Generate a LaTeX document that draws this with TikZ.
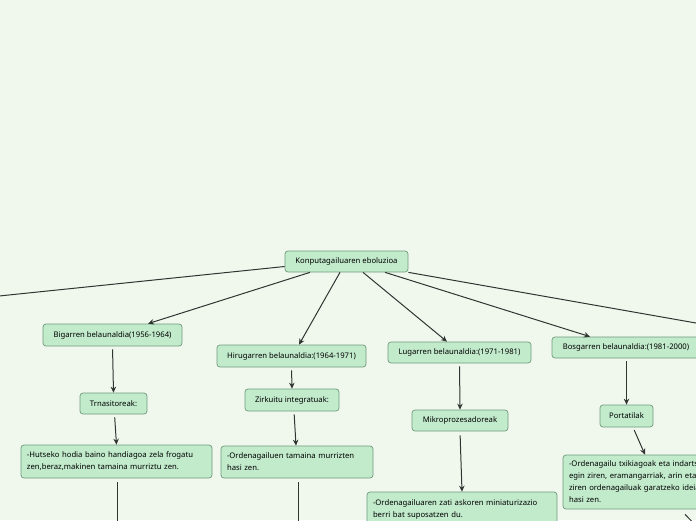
\documentclass[tikz,border=0pt]{standalone}
\usepackage{fontspec}
\setmainfont{Noto Sans}
\usetikzlibrary{arrows.meta}
\definecolor{bgc}{HTML}{F0F8EE}
\definecolor{boxfill}{HTML}{C2EBCC}
\definecolor{bdr}{HTML}{6E9A7A}
\definecolor{lnc}{HTML}{2F3632}
\tikzset{
  box/.style={draw=bdr, fill=boxfill, rounded corners=3pt, line width=0.7pt,
    font=\fontsize{7.7}{12}\selectfont, inner sep=0pt, align=center},
  tbox/.style={box, align=left, inner xsep=6pt},
  arr/.style={draw=lnc, line width=1pt, -{Stealth[length=6pt,width=5.5pt]}},
  ln/.style={draw=lnc, line width=1pt}
}
\begin{document}
\begin{tikzpicture}[x=1pt,y=-1pt]
\fill[bgc] (0,0) rectangle (696,520);
\useasboundingbox (0,0) rectangle (696,520);
\begin{scope}
\clip (0,0) rectangle (696,520);
\node[box, minimum width=123pt, minimum height=21pt] (root) at (346.5,261.5) {Konputagailuaren eboluzioa};
\node[box, minimum width=139pt, minimum height=22pt] (big) at (112.5,335) {Bigarren belaunaldia(1956-1964)};
\node[box, minimum width=67pt, minimum height=21pt] (trn) at (113.5,403.5) {Trnasitoreak:};
\node[tbox, text width=179pt, minimum height=33pt] (hut) at (116.5,461.5) {-Hutseko hodia baino handiagoa zela frogatu\\zen,beraz,makinen tamaina murriztu zen.};
\node[box, minimum width=149pt, minimum height=22pt] (hiru) at (291.5,356) {Hirugarren belaunaldia:(1964-1971)};
\node[box, minimum width=94pt, minimum height=22pt] (zirk) at (292,400) {Zirkuitu integratuak:};
\node[tbox, text width=140pt, minimum height=32pt] (ord1) at (297,462) {-Ordenagailuen tamaina murrizten\\hasi zen.};
\node[box, minimum width=143pt, minimum height=21pt] (lug) at (459.5,352.5) {Lugarren belaunaldia:(1971-1981)};
\node[box, minimum width=96pt, minimum height=21pt] (mik) at (460,420.5) {Mikroprozesadoreak};
\node[tbox, text width=178pt, minimum height=34pt] (ord2) at (462,509) {-Ordenagailuaren zati askoren miniaturizazio\\berri bat suposatzen du.};
\node[box, minimum width=148pt, minimum height=21pt] (bos) at (626,347.5) {Bosgarren belaunaldia:(1981-2000)};
\node[box, minimum width=53pt, minimum height=22pt] (port) at (626.5,416) {Portatilak};
\node[tbox, text width=188pt, minimum height=54pt] (txik) at (663,482) {-Ordenagailu txikiagoak eta indartsuagoak\\egin ziren, eramangarriak, arin eta erosoak\\ziren ordenagailuak garatzeko ideia\\hasi zen.};
\coordinate (lfar) at (-30,299);
\coordinate (rfar) at (730,329);
\coordinate (hutd) at (117,530);
\coordinate (ord1d) at (298,530);
\coordinate (txikd) at (705,535);
% root connectors
\draw[ln] ([yshift=-5pt]root.west) -- (lfar);
\draw[ln] (root.south east) -- (rfar);
\draw[arr] ([xshift=-36.5pt]root.south) -- ([xshift=35.5pt]big.north);
\draw[arr] ([xshift=-6.5pt]root.south) -- ([xshift=7.5pt]hiru.north);
\draw[arr] ([xshift=16.5pt]root.south) -- ([xshift=-12.5pt]lug.north);
\draw[arr] ([xshift=38.5pt]root.south) -- ([xshift=-36pt]bos.north);
% branches
\draw[arr, shorten <=3pt] (big.south) -- (trn.north);
\draw[arr, shorten <=3pt] ([xshift=1pt]trn.south) -- (hut.north);
\draw[ln, shorten <=4pt] ([xshift=0.5pt]hut.south) -- (hutd);
\draw[arr, shorten <=3pt] (hiru.south) -- (zirk.north);
\draw[arr, shorten <=3pt] ([xshift=2pt]zirk.south) -- ([xshift=-1pt]ord1.north);
\draw[ln, shorten <=4pt] ([xshift=1pt]ord1.south) -- (ord1d);
\draw[arr, shorten <=3pt] (lug.south) -- (mik.north);
\draw[arr, shorten <=4pt] (mik.south) -- (ord2.north);
\draw[arr, shorten <=3pt] ([xshift=0.5pt]bos.south) -- (port.north);
\draw[arr, shorten <=3pt] ([xshift=6.5pt]port.south) -- ([xshift=-18pt]txik.north);
\draw[ln] ([xshift=22pt,yshift=-5pt]txik.south) -- (txikd);
\end{scope}
\end{tikzpicture}
\end{document}
